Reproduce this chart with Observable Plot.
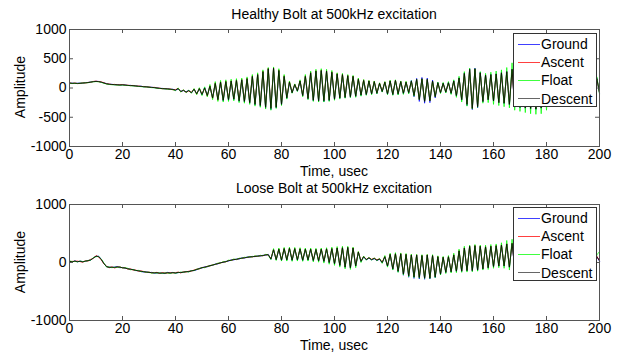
<!DOCTYPE html>
<html>
<head>
<meta charset="utf-8">
<script src="https://cdn.jsdelivr.net/npm/d3@7"></script>
<script src="https://cdn.jsdelivr.net/npm/@observablehq/plot@0.6"></script>
<style>
  html, body { margin: 0; padding: 0; background: #fff; }
  #fig { position: relative; width: 621px; height: 354px; overflow: hidden; font-family: "Liberation Sans", Arial, Helvetica, sans-serif; color: #000; }
  .panel { position: absolute; left: 0; }
  .txt { position: absolute; font-size: 14px; line-height: 14px; white-space: nowrap; }
  .title { left: 0; width: 668px; text-align: center; }
  .xlab { left: 0; width: 668px; text-align: center; }
  .ylab { left: 20px; transform: translate(-50%, -50%) rotate(-90deg); }
  .legend { position: absolute; background: #fff; border: 1px solid #333; box-sizing: border-box; }
  .legend .row { position: absolute; left: 0; height: 18px; width: 100%; }
  .legend .sw { position: absolute; left: 4px; top: 8.5px; width: 22px; height: 1px; }
  .legend .lb { position: absolute; left: 27px; top: 1px; font-size: 14px; line-height: 16px; }
</style>
</head>
<body>
<div id="fig"></div>
<script>
// ---------- data ----------
const time = d3.range(0, 201); // sampling instants, usec (1 usec step)
const seriesNames = ["Ground", "Ascent", "Float", "Descent"];
const seriesColors = ["#0000ff", "#ff0000", "#00ff00", "#000000"];
const xTicks = [0, 20, 40, 60, 80, 100, 120, 140, 160, 180, 200];
const yTicksTop = [-1000, -500, 0, 500, 1000];
const yTicksBottom = [-1000, 0, 1000];
const titleTop = "Healthy Bolt at 500kHz excitation";
const titleBottom = "Loose Bolt at 500kHz excitation";
const xLabel = "Time, usec";
const yLabel = "Amplitude";

// Healthy bolt
const healthyGround = [80,84,78,82,84,82,92,95,104,110, 115,112,98,88,75,62,64,55,58,50, 52,54,42,46,38,38,28,32,20,24, 12,14,5,4,-8,-6,-16,-12,-24,-20, -40,
  -15,-55,-45,-65,-40,-85,-25,-95,-15,-120, 10,-125,25,-165,70,-190,95,-220,100,-210,
  110,-200,125,-230,130,-240,150,-260,190,-290, 220,-315,270,-345,320,-370,330,-340,290,-290,
  190,-180,90,-85,55,-55,110,-135,190,-190, 250,-220,280,-230,290,-235,280,-220,260,-200,
  230,-180,220,-170,200,-160,190,-150,145,-130, 125,-120,115,-105,100,-95,75,-65,95,-110,
  115,-120,125,-110,105,-100,95,-90,130,-150, 165,-230,180,-260,170,-250,135,-170,95,-85,
  85,-75,95,-95,125,-140,175,-210,260,-300, 330,-370,340,-340,270,-240,225,-205,235,-225,
  245,-255,265,-270,285,-290,325,-330,335,-340, 325,-350,305,-360,285,-370,265,-350,245,-310,
  225,-270,205,-235,195,-205,185,-185,175,-175, 165,-165,175,-155,185,-155,175,-125,165,-85];
const healthyAscent = [90,76,86,75,78,88,85,96,98,112, 118,108,104,90,70,68,58,62,52,56, 58,48,48,40,44,32,34,25,26,16, 18,8,12,-2,-2,-14,-10,-18,-16,-30, -30,
  -5,-65,-35,-75,-50,-75,-15,-105,-5,-105, -5,-140,40,-180,90,-210,110,-200,120,-195,
  125,-185,140,-210,150,-225,170,-245,210,-270, 240,-295,290,-320,340,-340,350,-320,310,-270,
  210,-160,110,-75,65,-45,125,-125,210,-175, 270,-200,300,-215,310,-210,300,-200,280,-185,
  250,-165,240,-155,220,-145,205,-135,160,-115, 140,-105,125,-95,115,-85,85,-55,105,-95,
  125,-105,135,-95,115,-85,105,-75,110,-120, 140,-190,150,-215,140,-210,110,-140,85,-75,
  75,-65,85,-85,115,-125,165,-195,245,-275, 315,-345,325,-310,255,-225,215,-195,225,-215,
  235,-245,255,-255,275,-275,315,-315,325,-325, 315,-335,295,-345,275,-355,255,-335,235,-295,
  215,-255,195,-225,185,-195,175,-175,165,-165, 155,-155,165,-145,175,-145,165,-115,155,-75];
const healthyFloat = [82,78,80,76,82,84,90,90,102,106, 110,106,96,80,68,60,56,54,50,48, 50,46,44,38,36,34,26,24,18,18, 14,6,4,-4,-8,-12,-15,-20,-22,-28, -45,
  0,-70,-30,-80,-35,-90,-10,-115,5,-130, 20,-150,60,-200,110,-230,130,-240,140,-230,
  150,-220,160,-250,170,-260,190,-280,230,-310, 260,-330,310,-360,350,-380,360,-350,330,-300,
  230,-190,120,-90,70,-60,140,-150,230,-200, 290,-230,320,-240,330,-240,320,-230,300,-210,
  260,-190,250,-175,230,-165,215,-160,170,-140, 145,-125,130,-115,120,-100,90,-70,110,-115,
  135,-125,140,-120,120,-110,115,-100,125,-140, 150,-200,155,-225,145,-215,120,-150,100,-95,
  95,-85,110,-110,140,-160,200,-240,280,-310, 340,-360,330,-330,280,-260,250,-250,270,-280,
  290,-300,310,-320,350,-340,430,-380,400,-400, 380,-420,360,-440,340,-450,320,-440,300,-380,
  270,-320,250,-280,230,-240,210,-210,200,-200, 190,-190,200,-180,210,-180,200,-150,190,-100];
const healthyDescent = [85,80,82,78,80,85,88,92,100,108, 112,110,100,85,72,65,60,58,55,52, 55,50,45,42,40,35,30,28,22,20, 15,10,8,0,-5,-10,-12,-15,-20,-25, -35,
  -10,-60,-40,-70,-45,-80,-20,-100,-10,-110, 0,-130,30,-170,80,-200,100,-210,110,-200,
  120,-190,130,-220,140,-230,160,-250,200,-280, 230,-300,280,-330,330,-350,340,-330,300,-280,
  200,-170,100,-80,60,-50,120,-130,200,-180, 260,-210,290,-220,300,-220,290,-210,270,-190,
  240,-170,230,-160,210,-150,200,-140,150,-120, 130,-110,120,-100,110,-90,80,-60,100,-100,
  120,-110,130,-100,110,-90,100,-80,120,-130, 150,-200,160,-230,150,-220,120,-150,90,-80,
  80,-70,90,-90,120,-130,170,-200,250,-280, 320,-350,330,-320,260,-230,220,-200,230,-220,
  240,-250,260,-260,280,-280,320,-320,330,-330, 320,-340,300,-350,280,-360,260,-340,240,-300,
  220,-260,200,-230,190,-200,180,-180,170,-170, 160,-160,170,-150,180,-150,170,-120,160,-80];

// Loose bolt
const looseGround = [25,5,30,10,25,15,20,35,40,80, 105,110,55,-15,-75,-80,-85,-80,-70,-90,
  -85,-100,-105,-120,-120,-140,-140,-155,-165,-160, -175,-170,-185,-180,-180,-185,-190,-170,-185,-170,
  -185,-175,-170,-170,-155,-160,-140,-140,-125,-100, -95,-75,-75,-50,-50,-25,-25,0,0,20,
  25,45,45,60,60,80,75,95,90,105, 100,115,110,125,125,140,55,215,45,225,
  35,235,40,240,35,235,40,230,30,225, 40,225,30,220,25,225,15,230,-5,235,
  -25,245,-55,250,-85,255,-95,245,-65,175, 15,95,45,75,45,65,35,55,-5,95,
  -70,135,-120,145,-165,145,-220,135,-255,125, -275,125,-285,115,-290,125,-285,115,-265,95,
  -210,85,-175,95,-165,125,-155,195,-155,245, -145,275,-150,285,-140,275,-115,265,-95,275,
  -75,285,-65,295,-65,315,-85,325,-85,315, -95,295,-105,275,-115,255,-125,235,-115,215,
  -105,195,-95,185,-85,175,-75,165,-65,155, -55,145,-45,135,-35,125,-25,115,-5,95, 25];
const looseAscent = [15,20,20,25,15,5,30,25,55,70, 120,95,45,-25,-65,-90,-75,-95,-80,-75,
  -95,-90,-115,-110,-130,-130,-150,-145,-155,-170, -165,-180,-175,-170,-190,-175,-180,-185,-175,-180,
  -175,-165,-180,-160,-165,-150,-150,-130,-115,-110, -85,-85,-65,-60,-40,-35,-15,-10,10,10,
  35,35,55,50,70,70,85,85,100,95, 110,105,120,115,135,130,65,225,55,235,
  45,245,50,250,45,245,50,240,45,235, 50,235,40,230,35,235,25,240,5,245,
  -15,255,-45,260,-75,265,-85,255,-55,185, 25,105,55,85,55,75,45,65,5,105,
  -55,145,-105,155,-145,155,-195,145,-225,135, -240,135,-250,125,-260,135,-260,125,-240,105,
  -195,95,-165,105,-155,135,-145,205,-145,255, -135,285,-135,295,-125,285,-105,275,-85,285,
  -65,295,-55,305,-55,325,-75,335,-75,325, -85,305,-95,285,-105,265,-115,245,-105,225,
  -95,205,-85,195,-75,185,-65,175,-55,165, -45,155,-35,145,-25,135,-15,125,5,105, 35];
const looseFloat = [30,15,20,10,25,15,20,35,40,85, 100,105,60,-10,-80,-75,-90,-80,-85,-75,
  -95,-90,-100,-125,-120,-140,-135,-160,-155,-170, -165,-185,-175,-185,-175,-190,-180,-180,-190,-175,
  -185,-175,-165,-170,-155,-165,-140,-140,-115,-110, -85,-90,-65,-60,-40,-35,-10,-10,15,10,
  40,35,60,50,75,70,90,85,105,95, 115,105,125,115,140,130,50,240,35,250,
  25,260,25,265,20,260,25,255,20,250, 25,250,10,245,5,250,-10,255,-30,265,
  -50,275,-80,280,-110,280,-120,265,-90,190, 0,110,40,90,40,80,30,70,-15,120,
  -80,160,-130,170,-170,165,-215,155,-245,145, -260,140,-270,135,-275,140,-275,135,-260,115,
  -215,105,-190,120,-180,160,-175,230,-170,280, -165,300,-160,310,-150,300,-130,300,-120,310,
  -100,320,-90,340,-100,380,-130,400,-120,370, -130,340,-140,320,-150,300,-160,280,-150,260,
  -140,240,-130,230,-120,220,-110,200,-100,190, -90,180,-80,170,-70,160,-60,150,-40,130, 190];
const looseDescent = [20,10,25,15,20,10,25,30,45,75, 110,100,50,-20,-70,-85,-80,-85,-75,-80,
  -90,-95,-110,-115,-125,-135,-145,-150,-160,-165, -170,-175,-180,-175,-185,-180,-185,-175,-180,-175,
  -180,-170,-175,-165,-160,-155,-145,-135,-120,-105, -90,-80,-70,-55,-45,-30,-20,-5,5,15,
  30,40,50,55,65,75,80,90,95,100, 105,110,115,120,130,135,60,220,50,230,
  40,240,45,245,40,240,45,235,40,230, 45,230,35,225,30,230,20,235,0,240,
  -20,250,-50,255,-80,260,-90,250,-60,180, 20,100,50,80,50,70,40,60,0,100,
  -60,140,-110,150,-150,150,-200,140,-230,130, -250,130,-260,120,-270,130,-270,120,-250,100,
  -200,90,-170,100,-160,130,-150,200,-150,250, -140,280,-140,290,-130,280,-110,270,-90,280,
  -70,290,-60,300,-60,320,-80,330,-80,320, -90,300,-100,280,-110,260,-120,240,-110,220,
  -100,200,-90,190,-80,180,-70,170,-60,160, -50,150,-40,140,-30,130,-20,120,0,100, 30];

// ---------- drawing ----------
const fig = document.getElementById("fig");
const W = 621, ML = 69, MR = 22;

function toRows(arrays) {
  return arrays.flatMap((vals, k) => vals.map((v, i) => ({t: time[i], v, name: seriesNames[k]})));
}

function panel(arrays, yTicks, top, height, mt, mb) {
  const plotH = height - mt - mb, plotW = W - ML - MR;
  const axisColor = "#555";
  const svg = Plot.plot({
    width: W, height, marginLeft: ML, marginRight: MR, marginTop: mt, marginBottom: mb,
    style: {fontFamily: '"Liberation Sans", Arial, Helvetica, sans-serif', fontSize: "14px", color: "#000", background: "transparent", overflow: "visible"},
    x: {domain: [0, 200]},
    y: {domain: [-1000, 1000]},
    color: {domain: seriesNames, range: seriesColors},
    marks: [
      Plot.line(toRows(arrays), {x: "t", y: "v", z: "name", stroke: "name", strokeWidth: 0.75}),
      Plot.ruleX(xTicks, {insetTop: plotH - 4, stroke: axisColor}),
      Plot.ruleX(xTicks, {insetBottom: plotH - 4, stroke: axisColor}),
      Plot.ruleY(yTicks, {insetRight: plotW - 4, stroke: axisColor}),
      Plot.ruleY(yTicks, {insetLeft: plotW - 4, stroke: axisColor}),
      Plot.frame({stroke: axisColor}),
      Plot.axisX(xTicks, {tickSize: 0, tickPadding: 3, label: null, fill: "#000", tickFormat: d => String(d)}),
      Plot.axisY(yTicks, {tickSize: 0, tickPadding: 3, label: null, fill: "#000", tickFormat: d => String(d)})
    ]
  });
  svg.classList.add("panel");
  svg.style.top = top + "px";
  svg.style.position = "absolute";
  fig.appendChild(svg);
}

function addText(cls, text, top, extraStyle) {
  const d = document.createElement("div");
  d.className = "txt " + cls;
  d.textContent = text;
  d.style.top = top + "px";
  if (extraStyle) Object.assign(d.style, extraStyle);
  fig.appendChild(d);
}

function legend(left, top) {
  const box = document.createElement("div");
  box.className = "legend";
  Object.assign(box.style, {left: left + "px", top: top + "px", width: "84px", height: "74px"});
  seriesNames.forEach((n, i) => {
    const row = document.createElement("div");
    row.className = "row";
    row.style.top = (1 + i * 18.2) + "px";
    const sw = document.createElement("div");
    sw.className = "sw";
    sw.style.background = seriesColors[i];
    sw.style.opacity = i === 3 ? 0.6 : 0.75;
    const lb = document.createElement("div");
    lb.className = "lb";
    lb.textContent = n;
    row.appendChild(sw); row.appendChild(lb);
    box.appendChild(row);
  });
  fig.appendChild(box);
}

// top panel: plot area y 29..146
panel([healthyGround, healthyAscent, healthyFloat, healthyDescent], yTicksTop, 0, 178, 29, 32);
// bottom panel: plot area y 204..320
panel([looseGround, looseAscent, looseFloat, looseDescent], yTicksBottom, 175, 179, 29, 34);

addText("title", titleTop, 7);
addText("xlab", xLabel, 164);
addText("title", titleBottom, 181);
addText("xlab", xLabel, 338);
addText("ylab", yLabel, 87);
addText("ylab", yLabel, 262);

legend(513, 33);
legend(513, 207);
</script>
</body>
</html>
